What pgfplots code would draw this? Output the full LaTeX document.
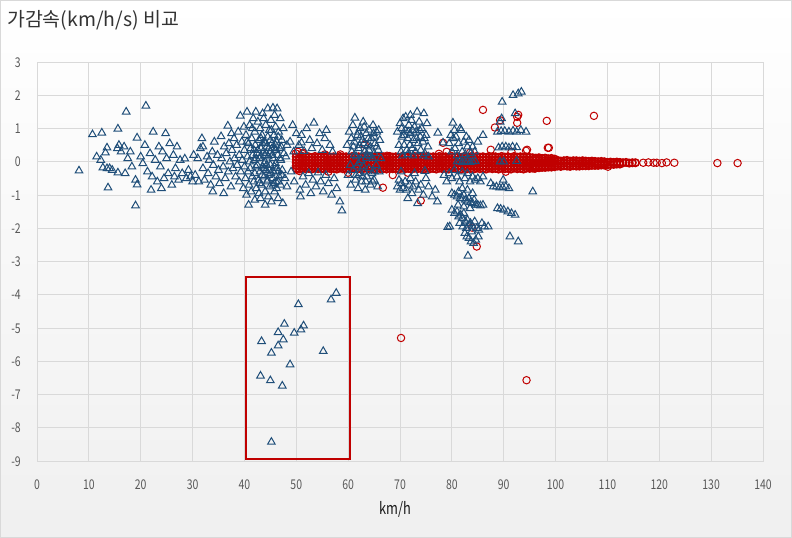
\documentclass[border=0pt]{standalone}
\usepackage{pgfplots}
\usepackage{pgfplotstable}
\pgfplotsset{compat=1.18}
\usepackage{fontspec}
\setmainfont{Noto Sans CJK KR}
\newfontfamily\narrowfont{Noto Sans CJK KR}[FakeStretch=0.78]
\definecolor{tri}{RGB}{31,78,121}
\definecolor{cir}{RGB}{192,0,0}
\definecolor{grd}{RGB}{217,217,217}
\definecolor{tkc}{RGB}{89,89,89}

% red band (circles), columns = rows of the dense band
\pgfplotstableread{
x a b c d e
50.0 0.15 0.06 -0.03 -0.12 -0.20
50.6 0.13 0.05 -0.04 -0.13 -0.22
51.2 0.16 0.07 -0.02 -0.11 -0.19
51.8 0.14 0.04 -0.05 -0.14 -0.21
52.4 0.15 0.06 -0.03 -0.12 -0.20
53.0 0.13 0.05 -0.04 -0.13 -0.22
53.6 0.16 0.07 -0.02 -0.11 -0.19
54.2 0.14 0.04 -0.05 -0.14 -0.21
54.8 0.15 0.06 -0.03 -0.12 -0.20
55.4 0.13 0.05 -0.04 -0.13 -0.22
56.0 0.16 0.07 -0.02 -0.11 -0.19
56.6 0.14 0.04 -0.05 -0.14 -0.21
57.2 0.15 0.06 -0.03 -0.12 -0.20
57.8 0.13 0.05 -0.04 -0.13 -0.22
58.4 0.16 0.07 -0.02 -0.11 -0.19
59.0 0.14 0.04 -0.05 -0.14 -0.21
59.6 0.15 0.06 -0.03 -0.12 -0.20
60.2 0.13 0.05 -0.04 -0.13 -0.22
60.8 0.16 0.07 -0.02 -0.11 -0.19
61.4 0.14 0.04 -0.05 -0.14 -0.21
62.0 0.15 0.06 -0.03 -0.12 -0.20
62.6 0.13 0.05 -0.04 -0.13 -0.22
63.2 0.16 0.07 -0.02 -0.11 -0.19
63.8 0.14 0.04 -0.05 -0.14 -0.21
64.4 0.15 0.06 -0.03 -0.12 -0.20
65.0 0.13 0.05 -0.04 -0.13 -0.22
65.6 0.16 0.07 -0.02 -0.11 -0.19
66.2 0.14 0.04 -0.05 -0.14 -0.21
66.8 0.15 0.06 -0.03 -0.12 -0.20
67.4 0.13 0.05 -0.04 -0.13 -0.22
68.0 0.16 0.07 -0.02 -0.11 -0.19
68.6 0.14 0.04 -0.05 -0.14 -0.21
69.2 0.15 0.06 -0.03 -0.12 -0.20
69.8 0.13 0.05 -0.04 -0.13 -0.22
70.4 0.16 0.07 -0.02 -0.11 -0.19
71.0 0.14 0.04 -0.05 -0.14 -0.21
71.6 0.15 0.06 -0.03 -0.12 -0.20
72.2 0.13 0.05 -0.04 -0.13 -0.22
72.8 0.16 0.07 -0.02 -0.11 -0.19
73.4 0.14 0.04 -0.05 -0.14 -0.21
74.0 0.15 0.06 -0.03 -0.12 -0.20
74.6 0.13 0.05 -0.04 -0.13 -0.22
75.2 0.16 0.07 -0.02 -0.11 -0.19
75.8 0.14 0.04 -0.05 -0.14 -0.21
76.4 0.15 0.06 -0.03 -0.12 -0.20
77.0 0.13 0.05 -0.04 -0.13 -0.22
77.6 0.16 0.07 -0.02 -0.11 -0.19
78.2 0.14 0.04 -0.05 -0.14 -0.21
78.8 0.15 0.06 -0.03 -0.12 -0.20
79.4 0.13 0.05 -0.04 -0.13 -0.22
80.0 0.16 0.07 -0.02 -0.11 -0.19
80.6 0.14 0.04 -0.05 -0.14 -0.21
81.2 0.15 0.06 -0.03 -0.12 -0.20
81.8 0.13 0.05 -0.04 -0.13 -0.22
82.4 0.16 0.07 -0.02 -0.11 -0.19
83.0 0.14 0.04 -0.05 -0.14 -0.21
83.6 0.15 0.06 -0.03 -0.12 -0.20
84.2 0.13 0.05 -0.04 -0.13 -0.22
84.8 0.16 0.07 -0.02 -0.11 -0.19
85.4 0.14 0.04 -0.05 -0.14 -0.21
86.0 0.15 0.06 -0.03 -0.12 -0.20
86.6 0.13 0.05 -0.04 -0.13 -0.22
87.2 0.16 0.07 -0.02 -0.11 -0.19
87.8 0.14 0.04 -0.05 -0.14 -0.21
88.4 0.15 0.06 -0.03 -0.12 -0.20
89.0 0.13 0.05 -0.04 -0.13 -0.22
89.6 0.16 0.07 -0.02 -0.11 -0.19
90.2 0.14 0.04 -0.05 -0.14 -0.21
90.8 0.15 0.06 -0.03 -0.12 -0.20
91.4 0.13 0.05 -0.04 -0.13 -0.22
92.0 0.16 0.07 -0.02 -0.11 -0.19
92.6 0.14 0.04 -0.05 -0.14 -0.21
93.2 0.15 0.06 -0.03 -0.12 -0.20
93.8 0.13 0.05 -0.04 -0.13 -0.22
94.4 0.14 0.06 -0.02 -0.11 -0.19
95.0 0.13 0.04 -0.05 -0.14 -0.20
95.6 0.12 0.05 -0.03 -0.12 -0.19
96.2 0.11 0.04 -0.04 -0.13 -0.18
96.8 0.12 0.05 -0.02 -0.11 -0.18
97.4 0.10 0.03 -0.05 -0.13 -0.17
98.0 0.11 0.04 -0.03 -0.12 -0.17
98.6 0.09 0.03 -0.04 -0.13 -0.16
99.2 0.10 0.04 -0.02 -0.11 -0.16
99.8 0.08 0.02 -0.05 -0.13 -0.15
100.4 nan 0.04 -0.05 -0.13 nan
101.0 nan 0.02 -0.06 -0.14 nan
101.6 nan 0.03 -0.04 -0.12 nan
102.2 nan 0.04 -0.05 -0.13 nan
102.8 nan 0.02 -0.06 -0.14 nan
103.4 nan 0.03 -0.04 -0.12 nan
104.0 nan 0.03 -0.05 -0.13 nan
104.6 nan 0.02 -0.06 -0.13 nan
105.2 nan 0.03 -0.04 -0.12 nan
105.8 nan 0.02 -0.05 -0.12 nan
106.4 nan 0.01 -0.06 -0.12 nan
107.0 nan 0.02 -0.04 -0.11 nan
107.6 nan 0.01 -0.05 -0.11 nan
108.2 nan 0.00 -0.06 -0.11 nan
108.8 nan 0.01 -0.05 -0.10 nan
109.4 nan 0.00 -0.06 -0.10 nan
110.0 nan nan -0.02 -0.09 nan
110.6 nan nan -0.01 -0.08 nan
111.2 nan nan -0.02 -0.08 nan
111.8 nan nan -0.01 -0.07 nan
112.4 nan nan -0.02 -0.07 nan
113.0 nan nan -0.03 nan nan
113.6 nan nan -0.02 nan nan
114.2 nan nan -0.04 nan nan
114.8 nan nan -0.03 nan nan
115.4 nan nan -0.03 nan nan
}\redband

% isolated red circles
\pgfplotstableread{
x y
49.9 0.25
50.3 0.30
50.6 -0.28
51.2 0.24
50.1 -0.24
51.3 0.27
55.5 0.22
56.2 -0.30
58.5 0.22
60.0 -0.33
63.2 0.51
66.7 -0.78
67.5 0.18
68.6 -0.40
71.5 -0.33
74.0 -1.17
77.5 0.24
78.3 0.57
79.0 0.30
83.5 0.27
83.9 -1.98
84.8 -2.55
86.0 1.56
88.3 1.03
89.3 1.25
92.6 1.35
92.6 1.17
92.8 1.41
98.3 1.23
107.4 1.38
98.5 0.42
94.3 0.33
87.5 0.36
91.5 0.30
94.5 0.36
90.4 -0.30
96.0 -0.21
98.7 0.42
110.1 -0.15
116.9 -0.03
117.9 -0.02
118.9 -0.03
119.5 -0.03
120.5 -0.04
121.4 -0.02
122.9 -0.03
131.2 -0.04
135.1 -0.04
70.2 -5.30
94.4 -6.57
}\redout

% triangles
\pgfplotstableread{
x y
8.1 -0.27
10.7 0.82
11.5 0.15
12.3 0.05
12.5 0.87
12.7 -0.18
13.2 0.27
13.5 0.42
13.5 -0.20
13.7 -0.78
14.0 -0.20
14.5 -0.25
15.6 0.99
15.5 0.40
15.8 0.50
15.6 -0.33
16.2 0.30
16.8 0.45
17.0 -0.35
17.2 1.50
17.5 0.10
18.3 -0.15
19.0 -0.55
19.0 -1.32
19.3 0.72
19.3 -0.69
20.0 0.15
20.4 -0.05
20.8 0.50
21.0 1.68
21.3 -0.30
21.8 0.25
22.2 -0.45
22.4 0.90
22.8 0.05
23.2 -0.60
23.5 0.45
23.8 -0.15
24.2 0.30
24.5 -0.50
24.8 0.85
25.0 0.10
25.3 -0.35
25.6 0.55
26.0 -0.70
26.3 0.20
26.7 -0.20
27.0 0.45
27.3 -0.55
27.6 0.05
28.0 -0.35
28.5 0.09
28.8 -0.50
29.2 -0.25
29.6 -0.45
30.0 -0.60
22.0 -0.85
24.0 -0.80
18.0 0.30
26.5 -0.45
30.5 -0.40
31.0 0.10
31.2 -0.60
31.5 0.40
32.0 -0.20
32.0 0.45
32.3 -0.55
32.8 0.15
33.0 -0.35
33.2 0.05
33.5 -0.70
33.8 0.30
34.0 -0.10
34.2 0.60
34.5 -0.45
34.8 0.20
35.0 -0.25
35.2 -0.65
35.5 0.76
35.6 0.10
35.9 -0.15
36.1 0.45
36.3 -0.50
36.5 0.25
36.8 1.08
36.9 -0.30
37.0 0.55
37.2 0.00
37.4 -0.75
37.6 0.35
37.8 -0.20
38.0 0.70
38.1 0.10
38.3 -0.45
38.5 0.50
38.6 -0.10
38.8 0.90
39.0 0.20
39.0 -0.60
39.2 1.38
39.3 -0.30
39.5 0.60
39.6 0.05
39.8 -0.80
39.9 1.05
40.0 0.35
40.0 -0.15
33.9 -0.90
36.0 -0.95
37.5 0.85
31.8 0.70
30.2 0.20
40.2 -0.50
40.3 0.80
40.4 -1.00
40.5 1.50
40.6 0.15
40.7 -0.30
40.8 0.55
40.9 -0.70
41.0 1.10
41.0 0.00
41.1 -0.20
41.2 0.40
41.3 -0.90
41.4 0.70
41.5 -0.45
41.6 0.20
41.7 1.30
41.8 -0.60
41.9 0.05
42.0 0.90
42.0 -0.35
42.1 0.50
42.2 1.50
42.3 -0.80
42.4 0.25
42.5 -0.10
42.6 1.20
42.7 -0.55
42.8 0.65
42.9 0.10
43.0 -0.30
43.0 1.00
43.1 -1.10
43.2 0.40
43.3 -0.70
43.4 0.80
43.5 -0.15
43.6 0.30
43.7 1.30
43.8 -0.45
43.9 0.60
44.0 -0.90
44.0 0.00
44.1 1.10
44.2 -0.25
44.3 0.45
44.4 -0.60
44.5 1.60
44.5 0.75
44.6 0.15
44.7 -0.40
44.8 0.95
44.9 -0.75
45.0 0.30
45.0 -0.10
45.1 1.25
45.2 -1.20
45.3 0.55
45.4 -0.50
45.5 0.10
45.5 1.62
45.6 -0.30
45.7 0.80
45.8 -0.90
45.9 0.35
46.0 -0.05
46.0 1.05
46.1 -0.60
46.2 0.60
46.3 1.60
46.3 -0.20
46.4 0.20
46.5 -1.10
46.6 0.90
46.7 -0.45
46.8 0.40
46.9 1.30
47.0 -0.70
47.0 0.05
47.2 0.65
47.3 -0.25
47.4 -1.25
47.5 1.00
47.6 0.25
47.8 -0.50
48.0 0.15
48.2 -0.75
48.2 0.50
44.0 -1.30
42.0 -1.15
40.8 -1.30
43.5 1.45
45.8 1.40
41.5 1.00
42.8 -0.95
44.6 -1.05
46.5 0.75
45.2 0.95
43.2 0.70
41.8 0.35
44.2 0.25
46.2 -0.80
47.1 0.45
45.7 -0.65
43.8 -0.05
42.3 0.10
40.5 0.60
42.2 -0.15
42.6 0.35
43.1 0.15
43.4 -0.40
43.9 0.20
44.3 -0.10
44.7 0.40
45.1 -0.35
45.4 0.20
45.8 -0.15
46.1 0.35
46.5 -0.30
46.9 0.10
44.0 0.55
45.0 0.65
46.0 0.50
43.5 0.55
44.5 -0.55
45.5 -0.70
46.5 -0.60
42.9 -0.65
47.2 -0.40
44.8 -0.25
45.3 0.40
43.7 -0.20
48.8 0.60
49.0 -0.30
49.3 1.10
49.5 0.30
49.6 -0.60
50.0 0.85
50.5 0.50
50.7 -0.85
51.0 0.80
51.0 0.57
51.3 -0.45
51.5 0.32
51.8 -0.70
52.0 1.00
52.4 -0.35
52.6 0.65
52.8 -0.95
53.0 0.40
53.2 -0.55
53.4 1.17
53.8 -0.75
54.0 0.55
54.2 -0.33
54.5 0.85
54.7 -0.60
55.0 0.35
55.2 -0.90
55.5 0.70
55.7 -0.40
56.2 -0.65
56.5 0.50
56.8 -1.00
57.0 0.30
57.3 -0.50
58.4 -1.20
58.8 -1.47
57.8 -0.80
55.8 0.95
50.8 -1.05
59.8 0.50
60.0 -0.40
60.2 0.90
60.4 -0.10
60.5 -0.70
60.7 0.30
60.9 1.10
61.0 -0.25
61.2 0.60
61.3 1.32
61.4 -0.55
61.6 0.15
61.8 0.80
61.9 -0.80
62.0 0.40
62.2 -0.35
62.3 1.00
62.5 0.05
62.6 -0.60
62.8 0.65
62.9 1.20
63.0 -0.15
63.2 0.30
63.3 -0.85
63.5 0.85
63.6 -0.45
63.8 0.50
64.0 0.96
64.0 -0.20
64.2 0.15
64.3 -0.70
64.5 0.70
64.6 -0.35
64.8 1.10
65.0 0.25
65.0 -0.55
65.2 0.55
65.4 -0.10
65.5 0.90
65.7 -0.75
65.8 0.35
66.0 -0.30
66.1 0.65
66.3 0.10
61.0 0.45
62.0 -0.05
63.0 0.55
64.0 0.35
65.0 0.75
62.4 0.75
63.7 0.20
61.5 -0.40
64.7 -0.60
63.1 1.05
60.6 0.70
65.9 0.95
61.2 0.20
61.7 -0.15
62.2 0.50
62.7 0.20
63.1 -0.30
63.5 0.10
63.9 0.70
64.3 0.45
64.7 0.10
65.1 -0.30
65.5 0.45
62.0 0.90
63.4 -0.60
64.9 0.85
62.8 -0.45
69.5 0.90
69.8 0.50
70.0 1.15
70.2 0.30
70.4 0.75
70.6 1.30
70.8 0.50
71.0 0.95
71.1 1.35
71.3 0.35
71.5 0.70
71.7 1.10
71.9 0.50
72.0 0.85
72.2 1.25
72.4 0.40
72.6 0.65
72.8 1.05
73.0 0.30
73.1 0.90
73.3 1.50
73.5 0.55
73.7 1.20
73.9 0.75
74.0 0.35
74.2 1.00
74.4 0.60
74.6 1.45
74.8 0.25
75.0 0.80
75.2 1.15
75.4 0.45
70.5 0.18
72.5 0.18
74.5 0.18
71.5 0.22
75.5 0.15
70.8 0.80
71.6 0.90
72.4 0.95
73.2 0.70
73.8 0.95
74.7 0.70
72.0 1.40
70.3 1.00
69.5 -0.75
69.8 -0.55
70.0 -0.85
70.3 -0.65
70.6 -0.80
71.0 -0.60
71.2 -0.85
71.5 -1.10
71.8 -0.70
72.0 -0.50
72.3 -0.95
72.5 -0.75
73.0 -0.60
73.4 -1.25
73.6 -0.85
74.0 -0.70
74.5 -1.00
75.0 -0.50
75.5 -0.75
76.2 -1.05
76.8 -0.85
77.2 -1.20
70.2 -0.30
72.8 -0.35
74.8 -0.28
77.3 0.87
78.3 0.57
79.5 0.55
80.0 0.30
80.3 0.70
80.6 0.40
81.0 0.18
81.3 0.55
81.6 1.00
81.8 0.95
82.0 0.30
82.3 0.60
82.6 0.22
83.0 0.45
83.3 0.65
83.6 0.25
84.0 0.45
84.4 0.30
85.0 0.60
86.0 0.80
80.8 0.75
82.8 0.75
80.2 1.17
80.5 0.95
79.8 0.80
81.0 0.00
81.5 0.02
82.0 -0.02
82.5 0.00
83.0 0.01
83.5 -0.01
84.0 0.00
84.5 0.02
79.5 -0.35
80.0 -0.50
80.5 -0.25
81.0 -0.45
81.5 -0.60
82.0 -0.30
82.5 -0.50
83.0 -0.35
83.5 -0.60
84.0 -0.45
84.5 -0.55
85.0 -0.50
85.5 -0.60
86.0 -0.45
78.5 -0.40
79.0 -0.60
80.0 -0.95
80.5 -1.00
81.0 -1.05
81.3 -0.90
81.6 -1.10
82.0 -1.10
82.3 -1.00
82.6 -1.15
83.0 -1.20
83.3 -1.10
83.6 -1.22
84.0 -1.25
84.3 -1.15
84.6 -1.30
85.0 -1.30
85.5 -1.32
86.0 -1.30
82.0 -0.80
83.0 -0.85
84.0 -0.95
81.2 -1.30
82.3 -1.35
83.5 -1.40
80.0 -1.45
80.5 -1.55
81.0 -1.50
81.3 -1.65
81.7 -1.60
82.0 -1.70
82.3 -1.55
82.6 -1.80
83.0 -1.75
83.3 -1.90
83.6 -1.85
84.0 -1.95
84.4 -1.80
84.8 -2.00
85.2 -2.05
85.8 -1.85
86.3 -1.95
87.0 -1.95
79.2 -1.97
79.6 -1.95
81.5 -1.85
82.8 -2.00
83.8 -2.10
82.1 -1.95
82.5 -2.15
82.9 -2.25
83.3 -2.30
83.7 -2.40
84.2 -2.45
84.6 -2.35
83.1 -2.83
85.1 -2.25
89.7 1.80
91.8 2.00
92.8 2.05
93.4 2.10
89.3 1.20
89.6 1.30
92.2 1.45
88.8 0.90
89.5 0.92
90.2 0.92
91.0 0.90
91.8 0.93
92.5 0.90
93.3 0.95
94.3 0.90
89.0 0.42
89.7 0.45
90.4 0.45
91.0 0.42
91.7 0.45
92.5 0.43
89.3 0.00
90.0 0.00
92.5 0.02
88.0 -0.75
88.6 -0.75
89.2 -0.78
89.8 -0.77
90.4 -0.75
91.0 -0.80
89.9 -0.55
88.8 -1.40
89.4 -1.42
90.0 -1.45
90.8 -1.50
91.5 -1.55
92.2 -1.60
91.2 -2.25
92.8 -2.40
95.6 -0.90
87.5 -0.65
57.7 -3.95
56.7 -4.15
50.4 -4.29
47.7 -4.88
51.4 -4.93
50.9 -5.05
46.5 -5.13
49.6 -5.15
47.5 -5.35
43.3 -5.40
46.5 -5.53
55.2 -5.70
45.2 -5.75
48.8 -6.10
43.1 -6.44
45.0 -6.58
47.3 -6.74
45.2 -8.43
}\bluedata

\begin{document}
\begin{tikzpicture}
\shade[top color=white, bottom color=black!6] (-37bp,-77bp) rectangle (755bp,461bp);
\draw[grd, line width=1bp] (-36.5bp,-76.5bp) rectangle (754.5bp,460.5bp);
\begin{axis}[
  at={(0,0)}, anchor=south west, scale only axis,
  width=726bp, height=399bp,
  xmin=0, xmax=140, ymin=-9, ymax=3,
  xtick distance=10, ytick distance=1,
  grid=major,
  major grid style={draw=grd, line width=0.8bp},
  axis line style={draw=grd, line width=0.8bp},
  tick style={draw=none},
  /pgf/number format/assume math mode=true,
  ticklabel style={font=\narrowfont\fontsize{13.5}{15}\selectfont, text=tkc, inner sep=0pt},
  xticklabel style={anchor=base, yshift=-28bp},
  yticklabel style={anchor=base east, xshift=-16bp, yshift=-5bp},
  clip=false,
]
\foreach \c in {a,b,c,d,e}{
  \addplot[only marks, mark=o, mark size=3.7bp, mark options={draw=cir, line width=1.6bp}] table[x=x, y=\c] {\redband};
}
\addplot[only marks, mark=o, mark size=3.7bp, mark options={draw=cir, line width=1bp}] table[x=x, y=y] {\redout};
\addplot[only marks, mark=triangle, mark size=4.4bp, mark options={draw=tri, line width=1bp}] table[x=x, y=y] {\bluedata};
\draw[cir, line width=2bp] (axis cs:40.3,-3.46) rectangle (axis cs:60.4,-8.95);
\end{axis}
\node[anchor=west, inner sep=0pt, text=black!80, font=\fontsize{19.5}{22}\selectfont] at (-30bp,441bp) {가감속(km/h/s) 비교};
\node[inner sep=0pt, text=black!90, font=\narrowfont\fontsize{16.5}{18}\selectfont] at (358bp,-48bp) {km/h};
\pgfresetboundingbox
\useasboundingbox (-37bp,-77bp) rectangle (755bp,461bp);
\end{tikzpicture}
\end{document}
